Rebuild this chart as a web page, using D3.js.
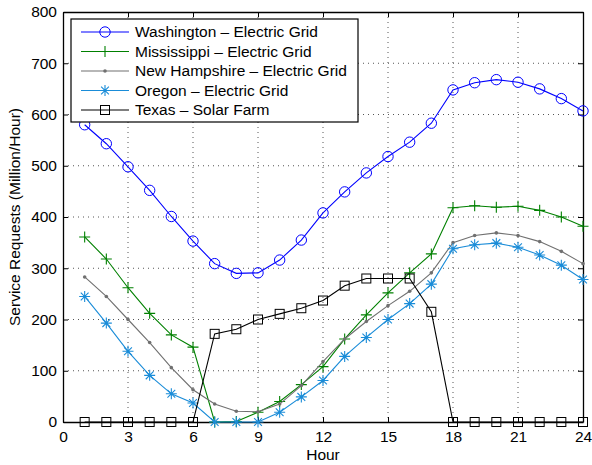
<!DOCTYPE html>
<html>
<head>
<meta charset="utf-8">
<script src="https://cdn.jsdelivr.net/npm/d3@7"></script>
<style>
  body { margin: 0; background: #fff; }
  text { font-family: "Liberation Sans", Arial, sans-serif; }
</style>
</head>
<body>
<div id="chart"></div>
<script>
const hours = d3.range(1, 25);
const xTicks = [0, 3, 6, 9, 12, 15, 18, 21, 24];
const yTicks = [0, 100, 200, 300, 400, 500, 600, 700, 800];

const washington = [580, 543, 498, 452, 401, 353, 309, 290, 291, 316, 355, 408,
  449, 486, 518, 546, 583, 648, 662, 668, 663, 650, 631, 607];
const mississippi = [361, 318, 262, 212, 170, 146, 0, 1, 19, 40, 73, 108,
  162, 209, 252, 291, 328, 418, 422, 419, 421, 413, 400, 382];
const newHampshire = [283, 245, 200, 155, 106, 63, 35, 21, 20, 35, 71, 118,
  162, 196, 227, 255, 291, 350, 364, 369, 364, 352, 333, 309];
const oregon = [245, 193, 138, 91, 55, 37, 0, 0, 0, 19, 49, 81,
  128, 165, 200, 231, 269, 338, 346, 349, 341, 326, 306, 278];
const texas = [0, 0, 0, 0, 0, 0, 172, 181, 200, 211, 222, 237,
  266, 280, 280, 280, 215, 0, 0, 0, 0, 0, 0, 0];

const series = [
  { name: "Washington \u2013 Electric Grid", values: washington, color: "#0000ff", marker: "circle" },
  { name: "Mississippi \u2013 Electric Grid", values: mississippi, color: "#008000", marker: "plus" },
  { name: "New Hampshire \u2013 Electric Grid", values: newHampshire, color: "#707070", marker: "dot" },
  { name: "Oregon \u2013 Electric Grid", values: oregon, color: "#1a8cd8", marker: "star" },
  { name: "Texas \u2013 Solar Farm", values: texas, color: "#000000", marker: "square" }
];

const W = 592, H = 465;
const margin = { top: 12, right: 9, bottom: 43, left: 63 };
const width = W - margin.left - margin.right;
const height = H - margin.top - margin.bottom;

const svg = d3.select("#chart").append("svg")
  .attr("width", W).attr("height", H);
const g = svg.append("g")
  .attr("transform", "translate(" + margin.left + "," + margin.top + ")");

const x = d3.scaleLinear().domain([0, 24]).range([0, width]);
const y = d3.scaleLinear().domain([0, 800]).range([height, 0]);

// grid
g.append("g").selectAll("line").data(xTicks.slice(1, -1)).join("line")
  .attr("x1", d => x(d)).attr("x2", d => x(d))
  .attr("y1", 0).attr("y2", height)
  .attr("stroke", "#555").attr("stroke-width", 1)
  .attr("stroke-dasharray", "1,4");
g.append("g").selectAll("line").data(yTicks.slice(1, -1)).join("line")
  .attr("x1", 0).attr("x2", width)
  .attr("y1", d => y(d)).attr("y2", d => y(d))
  .attr("stroke", "#555").attr("stroke-width", 1)
  .attr("stroke-dasharray", "1,4");

// axes
const fs = "15.5px";
const xAxis = g.append("g").attr("transform", "translate(0," + height + ")")
  .call(d3.axisBottom(x).tickValues(xTicks).tickSizeInner(-5).tickSizeOuter(0).tickPadding(9));
const yAxis = g.append("g")
  .call(d3.axisLeft(y).tickValues(yTicks).tickSizeInner(-5).tickSizeOuter(0).tickPadding(6));
g.append("g").attr("transform", "translate(" + width + ",0)")
  .call(d3.axisRight(y).tickValues(yTicks).tickSizeInner(-5).tickSizeOuter(0).tickFormat(""));
g.append("g")
  .call(d3.axisTop(x).tickValues(xTicks).tickSizeInner(-5).tickSizeOuter(0).tickFormat(""));
g.selectAll(".domain").attr("stroke", "#000").attr("stroke-width", 1.3);
g.selectAll(".tick line").attr("stroke", "#000");
[xAxis, yAxis].forEach(a => a.selectAll("text")
  .attr("font-size", fs).attr("fill", "#000")
  .style("font-family", "'Liberation Sans', Arial, sans-serif"));

// lines
const line = d3.line().x((d, i) => x(hours[i])).y(d => y(d));

function drawMarker(sel, type, color) {
  if (type === "circle") {
    sel.append("circle").attr("r", 5.2).attr("fill", "none")
      .attr("stroke", color).attr("stroke-width", 1);
  } else if (type === "plus") {
    sel.append("path").attr("d", "M-5.5,0H5.5M0,-5.5V5.5")
      .attr("stroke", color).attr("stroke-width", 1.1);
  } else if (type === "dot") {
    sel.append("circle").attr("r", 1.8).attr("fill", color);
  } else if (type === "star") {
    sel.append("path")
      .attr("d", "M-5.5,0H5.5M0,-5.5V5.5M-3.9,-3.9L3.9,3.9M-3.9,3.9L3.9,-3.9")
      .attr("stroke", color).attr("stroke-width", 1.1);
  } else if (type === "square") {
    sel.append("rect").attr("x", -4.5).attr("y", -4.5)
      .attr("width", 9).attr("height", 9).attr("fill", "none")
      .attr("stroke", color).attr("stroke-width", 1);
  }
}

series.forEach(s => {
  g.append("path").datum(s.values)
    .attr("d", line).attr("fill", "none")
    .attr("stroke", s.color).attr("stroke-width", 1.1);
  g.append("g").selectAll("g").data(s.values).join("g")
    .attr("transform", (d, i) => "translate(" + x(hours[i]) + "," + y(d) + ")")
    .each(function () { drawMarker(d3.select(this), s.marker, s.color); });
});

// legend
const lg = svg.append("g").attr("transform", "translate(71,19)");
lg.append("rect").attr("width", 287).attr("height", 103)
  .attr("fill", "#fff").attr("stroke", "#000").attr("stroke-width", 1.2);
series.forEach((s, i) => {
  const row = lg.append("g").attr("transform", "translate(0," + (13 + i * 19.5) + ")");
  row.append("line").attr("x1", 10).attr("x2", 58)
    .attr("stroke", s.color).attr("stroke-width", 1.1);
  drawMarker(row.append("g").attr("transform", "translate(34,0)"), s.marker, s.color);
  row.append("text").attr("x", 64).attr("dy", "0.35em")
    .attr("font-size", fs).text(s.name);
});

// axis titles
svg.append("text").attr("x", margin.left + x(12)).attr("y", 460)
  .attr("text-anchor", "middle").attr("font-size", fs).text("Hour");
svg.append("text")
  .attr("transform", "translate(20," + (margin.top + height / 2) + ") rotate(-90)")
  .attr("text-anchor", "middle").attr("font-size", fs)
  .text("Service Requests (Million/Hour)");
</script>
</body>
</html>
